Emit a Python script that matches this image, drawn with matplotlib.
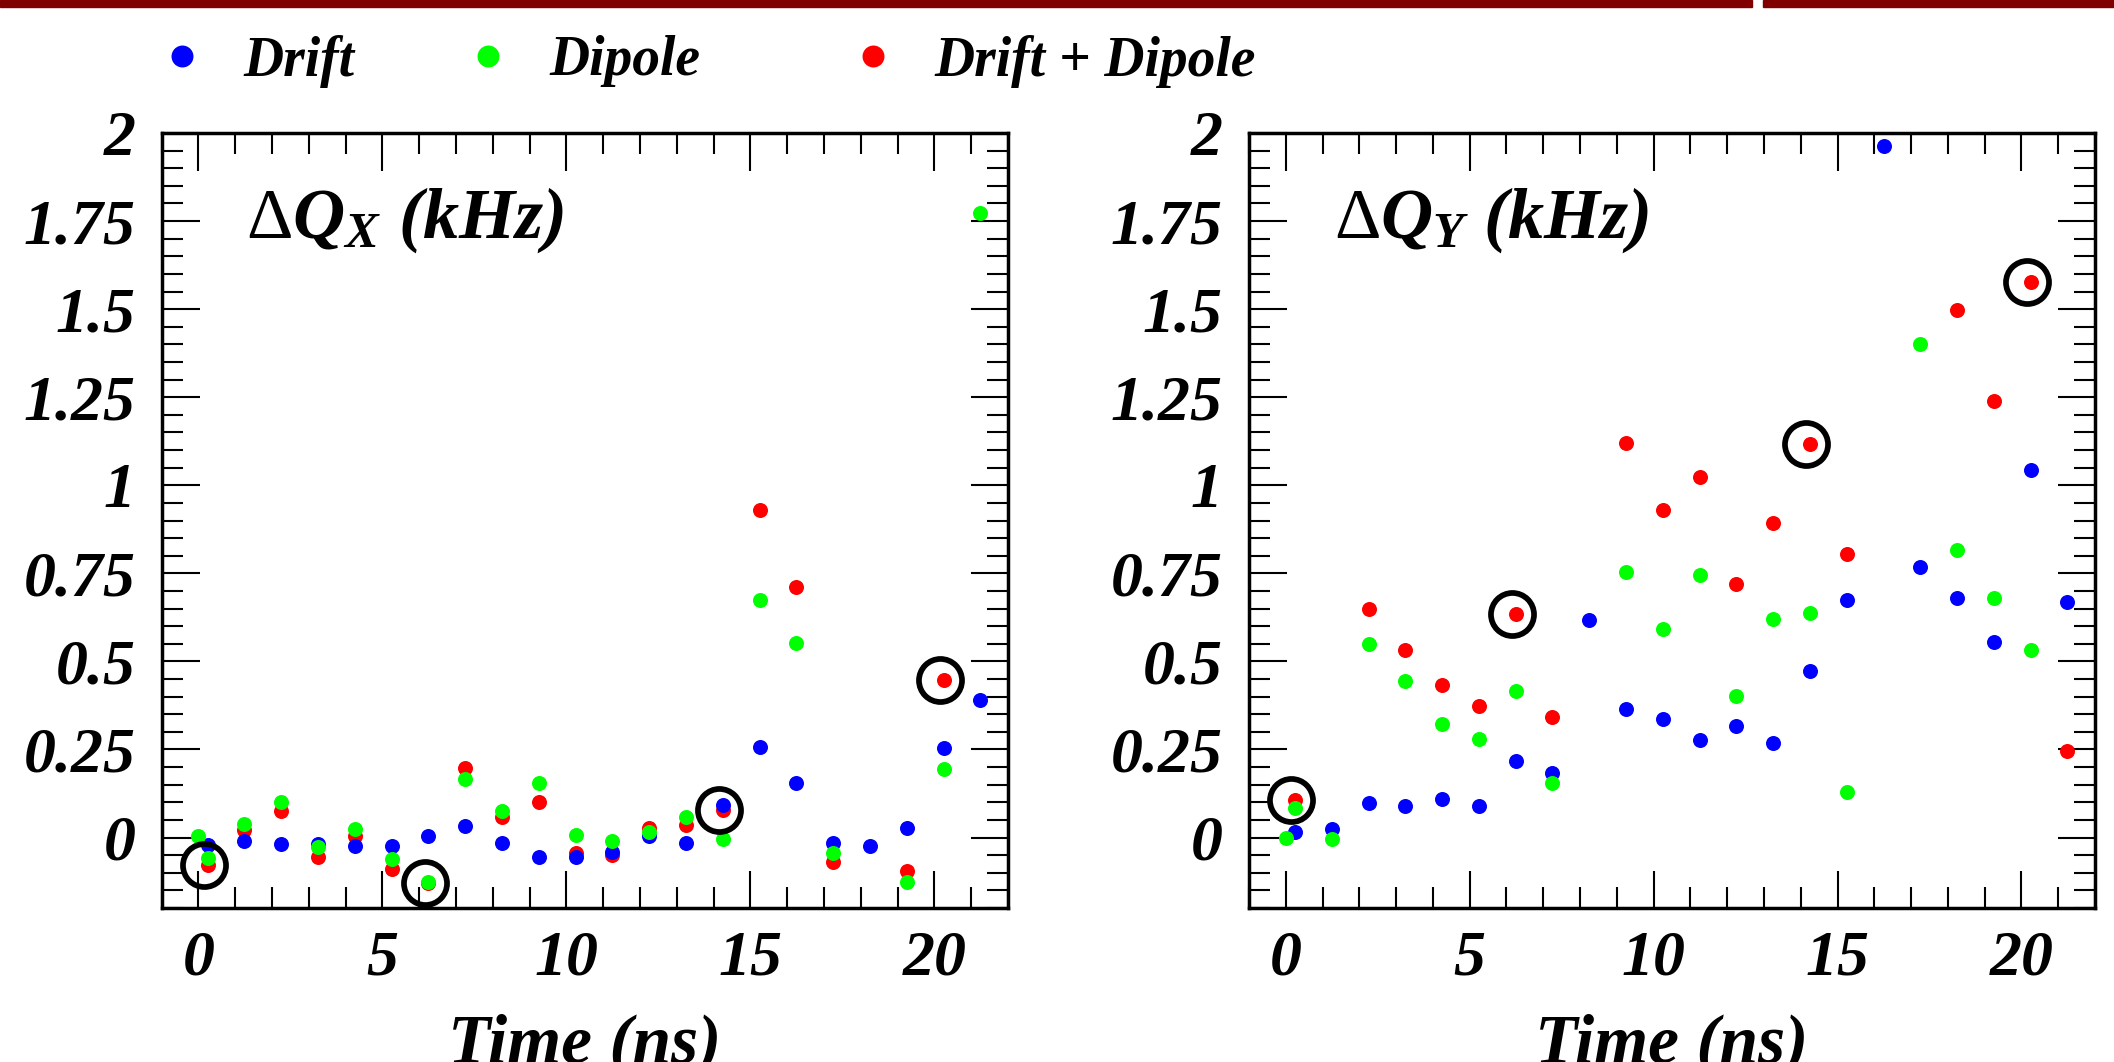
import numpy as np
import matplotlib
matplotlib.use("Agg")
import matplotlib.pyplot as plt
from matplotlib.lines import Line2D
from matplotlib.patches import Rectangle
from matplotlib.ticker import MultipleLocator, FuncFormatter

plt.rcParams['font.family'] = ['Liberation Serif', 'DejaVu Serif']
plt.rcParams['font.weight'] = 'bold'
plt.rcParams['font.style'] = 'italic'
plt.rcParams['axes.labelweight'] = 'bold'
plt.rcParams['mathtext.fontset'] = 'custom'
plt.rcParams['mathtext.rm'] = 'Liberation Serif:style=normal:weight=normal'
plt.rcParams['mathtext.it'] = 'Liberation Serif:style=italic:weight=bold'
plt.rcParams['mathtext.bf'] = 'Liberation Serif:style=normal:weight=bold'

nan = np.nan

# time of each measurement (ns)
time_ns = [0.25, 1.25, 2.25, 3.25, 4.25, 5.25, 6.25, 7.25, 8.25, 9.25, 10.25,
           11.25, 12.25, 13.25, 14.25, 15.25, 16.25, 17.25, 18.25, 19.25, 20.25, 21.25]

# horizontal tune shift dQx (kHz)
qx_drift = [-0.021, -0.011, -0.019, -0.018, -0.025, -0.023, 0.003, 0.034, -0.016, -0.054, -0.054,
            -0.040, 0.003, -0.016, 0.092, 0.258, 0.156, -0.016, -0.023, 0.026, 0.253, 0.390]
qx_dipole = [-0.058, 0.038, 0.102, -0.028, 0.025, -0.061, -0.125, 0.166, 0.075, 0.154, 0.008,
             -0.011, 0.015, 0.059, -0.005, 0.674, 0.551, -0.044, nan, -0.125, 0.194, 1.774]
qx_both = [-0.077, 0.022, 0.075, -0.056, 0.003, -0.090, -0.130, 0.198, 0.059, 0.102, -0.045,
           -0.049, 0.026, 0.036, 0.078, 0.929, 0.710, -0.068, nan, -0.096, 0.448, nan]

# vertical tune shift dQy (kHz)
qy_drift = [0.017, 0.024, 0.099, 0.089, 0.110, 0.089, 0.217, 0.184, 0.618, 0.366, 0.337,
            0.278, 0.318, 0.269, 0.472, 0.673, 1.964, 0.769, 0.680, 0.554, 1.043, 0.670]
qy_dipole = [0.085, -0.005, 0.549, 0.443, 0.321, 0.281, 0.415, 0.156, nan, 0.753, 0.592,
             0.744, 0.401, 0.621, 0.637, 0.130, nan, 1.401, 0.816, 0.681, 0.531, nan]
qy_both = [0.108, nan, 0.649, 0.533, 0.434, 0.373, 0.635, 0.342, nan, 1.121, 0.931,
           1.024, 0.720, 0.894, 1.116, 0.805, nan, nan, 1.497, 1.238, 1.576, 0.245]

# dipole reference point at t = 0
t0_dipole = 0.0
qx_dipole_t0 = 0.005
qy_dipole_t0 = 0.0

# points marked with a black ring (index into the Drift + Dipole series)
circled = [0, 6, 14, 20]

fig = plt.figure(figsize=(21.14, 10.62), dpi=100)

# dark red banner on top (cut title bar)
fig.patches.append(Rectangle((0, 1 - 7 / 1062), 1752 / 2114, 7 / 1062,
                             transform=fig.transFigure, color='#800000', zorder=0))
fig.patches.append(Rectangle((1763 / 2114, 1 - 7 / 1062), 1 - 1763 / 2114, 7 / 1062,
                             transform=fig.transFigure, color='#800000', zorder=0))

ax1 = fig.add_axes([161.7 / 2114, 154 / 1062, 846.3 / 2114, 775 / 1062])
ax2 = fig.add_axes([1249 / 2114, 154 / 1062, 846 / 2114, 775 / 1062])

panels = [(ax1, qx_drift, qx_dipole, qx_both, qx_dipole_t0, r'$\Delta\mathit{Q}_{\mathit{X}}$ (kHz)'),
          (ax2, qy_drift, qy_dipole, qy_both, qy_dipole_t0, r'$\Delta\mathit{Q}_{\mathit{Y}}$ (kHz)')]

ms = 10.8
for ax, drift, dipole, both, d0, title in panels:
    ax.plot(time_ns, both, 'o', color='#ff0000', ms=ms, mew=0, zorder=3)
    ax.plot(time_ns, drift, 'o', color='#0000ff', ms=ms, mew=0, zorder=4)
    ax.plot(time_ns, dipole, 'o', color='#00ff00', ms=ms, mew=0, zorder=5)
    ax.plot([t0_dipole], [d0], 'o', color='#00ff00', ms=ms, mew=0, zorder=5)
    ax.plot([time_ns[i] - 0.1 for i in circled], [both[i] for i in circled], 'o',
            mfc='none', mec='black', ms=31, mew=4.1, zorder=6)

    ax.set_xlim(-1, 22)
    ax.set_ylim(-0.2, 2.0)
    ax.xaxis.set_major_locator(MultipleLocator(5))
    ax.xaxis.set_minor_locator(MultipleLocator(1))
    ax.yaxis.set_major_locator(MultipleLocator(0.25))
    ax.yaxis.set_minor_locator(MultipleLocator(0.05))
    ax.yaxis.set_major_formatter(FuncFormatter(lambda v, p: '%g' % v))
    ax.tick_params(which='both', direction='in', top=True, right=True, width=1.5,
                   labelsize=46)
    ax.tick_params(which='major', length=27)
    ax.tick_params(which='minor', length=15)
    ax.tick_params(axis='y', which='major', pad=19)
    ax.tick_params(axis='x', which='major', pad=16)
    for s in ax.spines.values():
        s.set_linewidth(2.5)

    ax.text(0.1, 0.8645, title, transform=ax.transAxes, fontsize=52, va='baseline')
    ax.set_xlabel('Time (ns)', fontsize=50, fontweight='bold', fontstyle='italic')
    ax.xaxis.set_label_coords(0.5, -0.135)

# legend on top, one entry each
entries = [('Drift', '#0000ff', 171), ('Dipole', '#00ff00', 477), ('Drift + Dipole', '#ff0000', 862)]
for label, col, xpix in entries:
    h = Line2D([], [], ls='none', marker='o', color=col, ms=15.8, mew=0)
    fig.legend([h], [label], loc='center left', bbox_to_anchor=(xpix / 2114, 1 - 61 / 1062),
               frameon=False, fontsize=40, borderpad=0, borderaxespad=0,
               handlelength=0.4, handletextpad=0.9)

fig.savefig('out.png', dpi=100)
